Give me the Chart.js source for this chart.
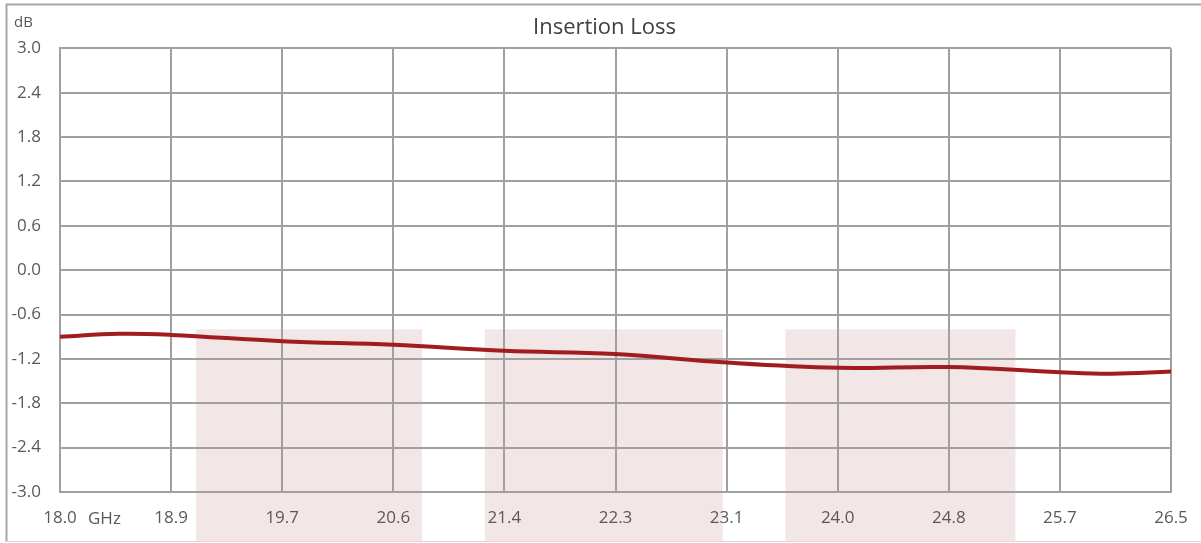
<!DOCTYPE html>
<html>
<head>
<meta charset="utf-8">
<script src="https://cdn.jsdelivr.net/npm/chart.js@4"></script>
<style>
  html, body { margin: 0; padding: 0; background: #fff; }
  #wrap { width: 1201px; height: 543px; }
</style>
</head>
<body>
<div id="wrap"><canvas id="lossChart" width="1201" height="543"></canvas></div>
<script>
// frequency (GHz) and insertion loss (dB)
const freqs = [18.0, 18.45, 18.85, 19.7, 20.55, 21.4, 22.25, 23.1, 23.95, 24.8, 25.65, 26.05, 26.5];
const lossDb = [-0.90, -0.86, -0.875, -0.96, -1.01, -1.09, -1.135, -1.25, -1.32, -1.31, -1.38, -1.40, -1.37];

const xTicks = [18.0, 18.85, 19.7, 20.55, 21.4, 22.25, 23.1, 23.95, 24.8, 25.65, 26.5];
const xTickLabels = ['18.0', '18.9', '19.7', '20.6', '21.4', '22.3', '23.1', '24.0', '24.8', '25.7', '26.5'];

// shaded pass bands (GHz), they hang from -0.8 dB down past the axis
const bandStart = [19.04, 21.25, 23.55];
const bandEnd = [20.77, 23.07, 25.31];
const bandTop = -0.8;

const textColor = '#595959';
const gridColor = '#a0a0a0';
const font = { family: '"Open Sans", sans-serif', size: 17 };

const decorPlugin = {
  id: 'decor',
  beforeDraw(chart) {
    const c = chart.ctx;
    const x = chart.scales.x, y = chart.scales.y;
    c.save();
    c.fillStyle = '#f2e6e6';
    const yTop = y.getPixelForValue(bandTop);
    for (let i = 0; i < bandStart.length; i++) {
      const x0 = x.getPixelForValue(bandStart[i]);
      const x1 = x.getPixelForValue(bandEnd[i]);
      c.fillRect(x0, yTop, x1 - x0, chart.height - 2 - yTop);
    }
    c.restore();
  },
  afterDraw(chart) {
    const c = chart.ctx;
    c.save();
    // outer frame
    c.strokeStyle = '#a6a6a6';
    c.lineWidth = 2;
    c.beginPath();
    c.moveTo(6.5, chart.height - 1);
    c.lineTo(6.5, 4.5);
    c.lineTo(chart.width, 4.5);
    c.stroke();
    c.strokeStyle = '#d9d9d9';
    c.lineWidth = 1;
    c.beginPath();
    c.moveTo(6, chart.height - 1.5);
    c.lineTo(chart.width, chart.height - 1.5);
    c.stroke();
    // units
    c.fillStyle = textColor;
    c.font = '15px "Open Sans", sans-serif';
    c.textBaseline = 'middle';
    c.fillText('dB', 14, 23);
    c.font = '17px "Open Sans", sans-serif';
    c.fillText('GHz', 88, 519);
    c.restore();
  }
};

new Chart(document.getElementById('lossChart'), {
  type: 'line',
  data: {
    datasets: [{
      data: freqs.map((f, i) => ({ x: f, y: lossDb[i] })),
      borderColor: '#a01c1f',
      borderWidth: 4,
      pointRadius: 0,
      tension: 0.4,
      fill: false
    }]
  },
  options: {
    responsive: false,
    animation: false,
    layout: { padding: { left: 8, top: 4, right: 0, bottom: 0 } },
    plugins: {
      legend: { display: false },
      tooltip: { enabled: false },
      title: {
        display: true,
        text: 'Insertion Loss',
        color: '#404040',
        font: { family: '"Open Sans", sans-serif', size: 22, weight: 'normal' },
        padding: { top: 11, bottom: 7 }
      }
    },
    scales: {
      x: {
        type: 'linear',
        min: 18.0,
        max: 26.5,
        afterBuildTicks(scale) {
          scale.ticks = xTicks.map(v => ({ value: v }));
        },
        afterFit(scale) {
          scale.height = 51;
          scale.paddingLeft = 0;
          scale.paddingRight = 30;
        },
        ticks: {
          autoSkip: false,
          maxRotation: 0,
          padding: 16,
          color: textColor,
          font: font,
          callback: (v, i) => xTickLabels[i]
        },
        grid: { color: gridColor, lineWidth: 2, drawTicks: false },
        border: { color: gridColor, width: 2 }
      },
      y: {
        min: -3,
        max: 3,
        afterFit(scale) { scale.width = 52; },
        ticks: {
          stepSize: 0.6,
          padding: 19,
          color: textColor,
          font: font,
          callback: v => v.toFixed(1)
        },
        grid: { color: gridColor, lineWidth: 2, drawTicks: false },
        border: { color: gridColor, width: 2 }
      }
    }
  },
  plugins: [decorPlugin]
});
</script>
</body>
</html>
